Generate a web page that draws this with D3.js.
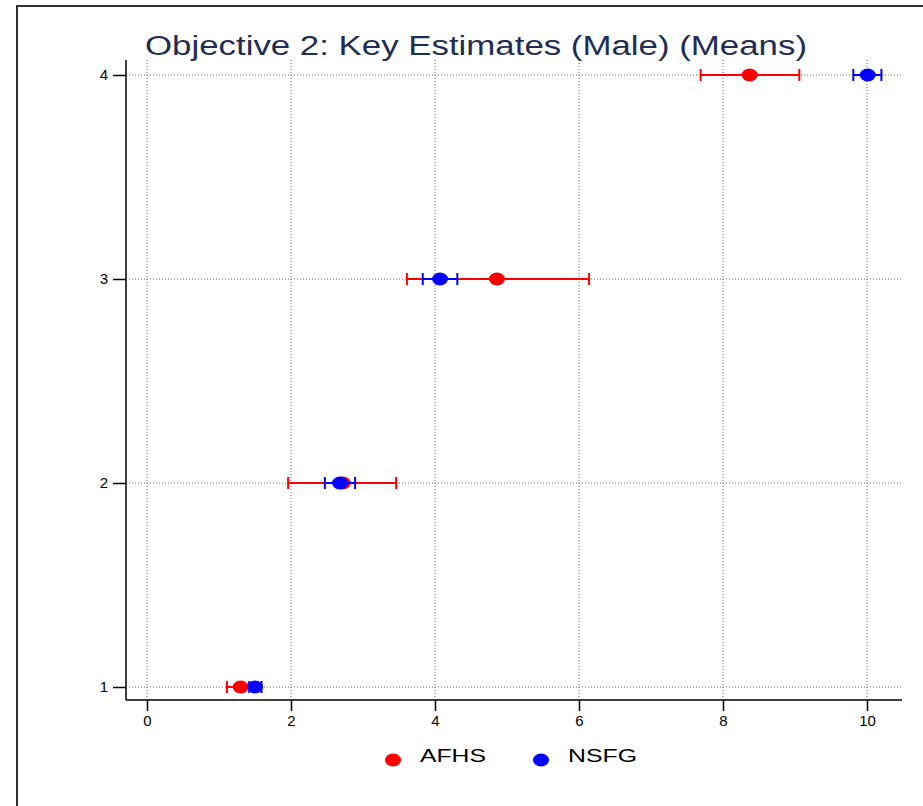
<!DOCTYPE html>
<html>
<head>
<meta charset="utf-8">
<script src="https://cdn.jsdelivr.net/npm/d3@7"></script>
<style>
  html, body { margin: 0; padding: 0; background: #fff; }
  svg { display: block; font-family: "Liberation Sans", Arial, sans-serif; }
</style>
</head>
<body>
<svg id="chart" width="923" height="806"></svg>
<script>
// Estimate rows (y position) and series
const rows = [1, 2, 3, 4];
const seriesNames = ["AFHS", "NSFG"];
const seriesColors = ["#ff0000", "#0000ff"];

// Means and confidence limits per row
const afhsMean  = [1.30, 2.72, 4.86, 8.37];
const afhsLower = [1.11, 1.96, 3.61, 7.69];
const afhsUpper = [1.50, 3.46, 6.14, 9.06];

const nsfgMean  = [1.50, 2.68, 4.07, 10.01];
const nsfgLower = [1.42, 2.47, 3.83, 9.81];
const nsfgUpper = [1.59, 2.89, 4.31, 10.20];

const xTicks = [0, 2, 4, 6, 8, 10];
const yTicks = [1, 2, 3, 4];

const titleText = "Objective 2: Key Estimates (Male) (Means)";

const svg = d3.select("#chart");

// Outer frame
svg.append("path")
  .attr("d", "M17,806 L17,6 L923,6")
  .attr("fill", "none").attr("stroke", "#333").attr("stroke-width", 2);

const x = d3.scaleLinear().domain([0, 10]).range([147, 867]);
const y = d3.scaleLinear().domain([1, 4]).range([687, 75]);

const xLeft = 126, xRight = 902, yTop = 60, yBottom = 700;

// Dotted grid
const grid = svg.append("g").attr("stroke", "#666").attr("stroke-width", 1)
  .attr("stroke-dasharray", "1,2");
grid.selectAll("line.v").data(xTicks).join("line")
  .attr("class", "v")
  .attr("x1", d => x(d)).attr("x2", d => x(d))
  .attr("y1", yTop).attr("y2", yBottom);
grid.selectAll("line.h").data(yTicks).join("line")
  .attr("class", "h")
  .attr("x1", xLeft).attr("x2", xRight)
  .attr("y1", d => y(d)).attr("y2", d => y(d));

// Axes
const xAxis = d3.axisBottom(x).tickValues(xTicks).tickSize(11).tickPadding(4)
  .tickFormat(d3.format("d"));
const gx = svg.append("g").attr("transform", `translate(0,${yBottom})`).call(xAxis);
gx.select(".domain").remove();
gx.append("line").attr("x1", xLeft).attr("x2", xRight).attr("stroke", "#000").attr("stroke-width", 1.5);
gx.selectAll(".tick line").attr("stroke", "#000").attr("stroke-width", 1.5);
gx.selectAll(".tick text").attr("font-size", 15).attr("fill", "#000")
  .attr("font-family", "Liberation Sans, Arial, sans-serif");

const yAxis = d3.axisLeft(y).tickValues(yTicks).tickSize(13).tickPadding(5)
  .tickFormat(d3.format("d"));
const gy = svg.append("g").attr("transform", `translate(${xLeft},0)`).call(yAxis);
gy.select(".domain").remove();
gy.append("line").attr("y1", yTop).attr("y2", yBottom).attr("stroke", "#000").attr("stroke-width", 1.5);
gy.selectAll(".tick line").attr("stroke", "#000").attr("stroke-width", 1.5);
gy.selectAll(".tick text").attr("font-size", 15).attr("fill", "#000")
  .attr("font-family", "Liberation Sans, Arial, sans-serif");

// Error bars with markers
const series = [
  { name: seriesNames[0], color: seriesColors[0], mean: afhsMean, lo: afhsLower, hi: afhsUpper },
  { name: seriesNames[1], color: seriesColors[1], mean: nsfgMean, lo: nsfgLower, hi: nsfgUpper }
];
const cap = 6;
series.forEach(s => {
  const g = svg.append("g").attr("stroke", s.color).attr("fill", s.color);
  const data = rows.map((r, i) => ({ r, m: s.mean[i], lo: s.lo[i], hi: s.hi[i] }));
  g.selectAll("line.bar").data(data).join("line").attr("class", "bar")
    .attr("x1", d => x(d.lo)).attr("x2", d => x(d.hi))
    .attr("y1", d => y(d.r)).attr("y2", d => y(d.r)).attr("stroke-width", 2);
  g.selectAll("line.lcap").data(data).join("line").attr("class", "lcap")
    .attr("x1", d => x(d.lo)).attr("x2", d => x(d.lo))
    .attr("y1", d => y(d.r) - cap).attr("y2", d => y(d.r) + cap).attr("stroke-width", 2);
  g.selectAll("line.hcap").data(data).join("line").attr("class", "hcap")
    .attr("x1", d => x(d.hi)).attr("x2", d => x(d.hi))
    .attr("y1", d => y(d.r) - cap).attr("y2", d => y(d.r) + cap).attr("stroke-width", 2);
  g.selectAll("ellipse").data(data).join("ellipse")
    .attr("cx", d => x(d.m)).attr("cy", d => y(d.r))
    .attr("rx", 8).attr("ry", 6.5).attr("stroke", "none");
});

// Title
svg.append("text")
  .attr("x", 145).attr("y", 55)
  .attr("font-size", 27).attr("fill", "#1f2d55")
  .attr("textLength", 662).attr("lengthAdjust", "spacingAndGlyphs")
  .text(titleText);

// Legend
const legendX = [393, 541];
const lg = svg.append("g");
seriesNames.forEach((name, i) => {
  lg.append("ellipse").attr("cx", legendX[i]).attr("cy", 760)
    .attr("rx", 8).attr("ry", 6.5).attr("fill", seriesColors[i]);
  lg.append("text").attr("x", legendX[i] + 27).attr("y", 762)
    .attr("font-size", 18).attr("fill", "#000")
    .attr("textLength", name === "AFHS" ? 66 : 69).attr("lengthAdjust", "spacingAndGlyphs")
    .text(name);
});
</script>
</body>
</html>
